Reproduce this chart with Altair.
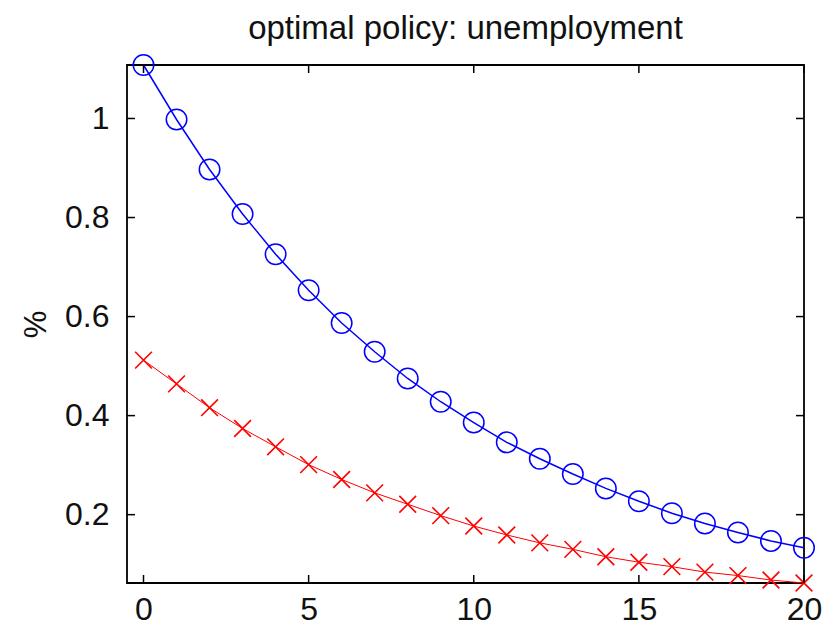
import altair as alt
import pandas as pd

periods = list(range(21))
blue_vals = [1.108, 0.998, 0.897, 0.807, 0.726, 0.653, 0.587, 0.529, 0.475, 0.428,
             0.386, 0.346, 0.313, 0.282, 0.253, 0.227, 0.203, 0.182, 0.164, 0.147, 0.133]
red_vals = [0.512, 0.464, 0.416, 0.374, 0.337, 0.301, 0.271, 0.244, 0.221, 0.198,
            0.177, 0.159, 0.143, 0.130, 0.115, 0.104, 0.095, 0.084, 0.077, 0.068, 0.062]
x_ticks = [0, 5, 10, 15, 20]
y_ticks = [0.2, 0.4, 0.6, 0.8, 1.0]

W, H = 677, 518
TL = 8

df = pd.DataFrame({"t": periods, "blue": blue_vals, "red": red_vals})
xt = pd.DataFrame({"t": x_ticks})
yt = pd.DataFrame({"blue": y_ticks})

xscale = alt.Scale(domain=[-0.5, 20], nice=False, zero=False)
yscale = alt.Scale(domain=[min(red_vals), max(blue_vals)], nice=False, zero=False)

FONT = "Liberation Sans"
LFS = 32

xaxis = alt.Axis(values=x_ticks, tickSize=0, domain=False, grid=False, labelFontSize=LFS,
                 labelFont=FONT, labelColor="#111", labelPadding=11, labelFlush=False,
                 labelOverlap=False, title=None)
yaxis = alt.Axis(values=y_ticks, tickSize=0, domain=False, grid=False, labelFontSize=LFS,
                 labelFont=FONT, labelColor="#111", labelPadding=18, format=".1~f",
                 labelFlush=False, labelOverlap=False,
                 title="%", titleFont=FONT, titleFontSize=31, titleFontWeight="normal",
                 titleColor="#111", titlePadding=12)

X = alt.X("t:Q", scale=xscale, axis=xaxis)
Yb = alt.Y("blue:Q", scale=yscale, axis=yaxis)
Yr = alt.Y("red:Q", scale=yscale, axis=yaxis)

base = alt.Chart(df)

blue_line = base.mark_line(color="#0000ff", strokeWidth=1.5, clip=False).encode(x=X, y=Yb)
blue_pts = base.mark_point(shape="circle", filled=False, color="#0000ff", size=420,
                           strokeWidth=1.5, opacity=1, clip=False).encode(x=X, y=Yb)
red_line = base.mark_line(color="#ff0000", strokeWidth=1.0, clip=False).encode(x=X, y=Yr)
red_pts = base.mark_point(shape="M-1,-1L1,1M-1,1L1,-1", filled=False, color="#ff0000",
                          size=280, strokeWidth=1.6, opacity=1, clip=False).encode(x=X, y=Yr)

tick_style = dict(color="black", strokeWidth=1.5)
xb = alt.Chart(xt).mark_rule(**tick_style).encode(x=X, y=alt.value(H), y2=alt.value(H - TL))
xtop = alt.Chart(xt).mark_rule(**tick_style).encode(x=X, y=alt.value(0), y2=alt.value(TL))
yl = alt.Chart(yt).mark_rule(**tick_style).encode(y=Yb, x=alt.value(0), x2=alt.value(TL))
yr = alt.Chart(yt).mark_rule(**tick_style).encode(y=Yb, x=alt.value(W), x2=alt.value(W - TL))

chart = alt.layer(blue_line, blue_pts, red_line, red_pts, xb, xtop, yl, yr).properties(
    width=W, height=H,
    title=alt.TitleParams("optimal policy: unemployment", font=FONT, fontSize=33,
                          fontWeight="normal", color="#111", offset=6, anchor="middle"),
    padding={"left": 127, "top": 65, "right": 21, "bottom": 45},
    autosize=alt.AutoSizeParams(type="none"),
).configure(background="white", view=alt.ViewConfig(stroke="black", strokeWidth=1.8))

chart.save("out.html", embed_options={"renderer": "svg", "actions": False})
